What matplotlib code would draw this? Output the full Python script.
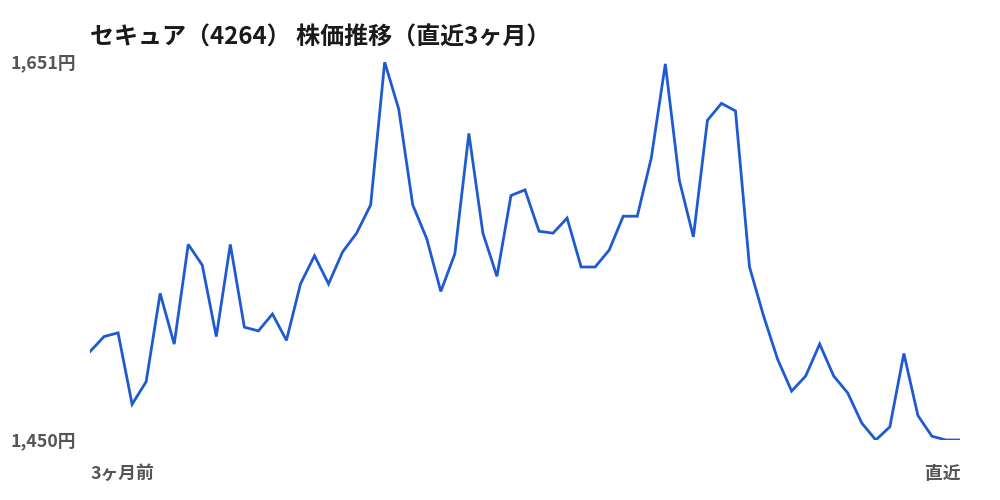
import matplotlib
matplotlib.use("Agg")
import matplotlib.pyplot as plt

plt.rcParams['font.family'] = ['Noto Sans CJK JP', 'DejaVu Sans']

# ── データ（直近3ヶ月の終値, 円）──
prices = [
    1497, 1505, 1507, 1469, 1481, 1528, 1501, 1554, 1543, 1505,
    1554, 1510, 1508, 1517, 1503, 1533, 1548, 1533, 1550, 1560,
    1575, 1651, 1626, 1575, 1557, 1529, 1549, 1613, 1560, 1537,
    1580, 1583, 1561, 1560, 1568, 1542, 1542, 1551, 1569, 1569,
    1600, 1650, 1588, 1558, 1620, 1629, 1625, 1542, 1516, 1493,
    1476, 1484, 1501, 1484, 1475, 1459, 1450, 1457, 1496, 1463,
    1452, 1450, 1450,
]
title = "セキュア（4264） 株価推移（直近3ヶ月）"
start_label = "3ヶ月前"
end_label = "直近"

LINE_COLOR = '#1f5bd0'
LABEL_COLOR = '#555555'

fig = plt.figure(figsize=(10, 5), dpi=100)
# 軸の位置: x 90→960px, y 62→440px
ax = fig.add_axes([0.09, 0.12, 0.87, 0.756])

x = list(range(len(prices)))
ax.plot(x, prices, color=LINE_COLOR, linewidth=2.0, solid_joinstyle='miter')

lo, hi = min(prices), max(prices)
ax.set_xlim(0, len(prices) - 1)
ax.set_ylim(lo, hi)
for s in ax.spines.values():
    s.set_visible(False)
ax.set_xticks([])
ax.set_yticks([])

# y軸ラベル（最高値・最安値）
for v in (hi, lo):
    ax.annotate(f"{v:,}円", xy=(0, v), xycoords=('figure fraction', 'data'),
                xytext=(10, -1), textcoords='offset pixels',
                ha='left', va='center', fontsize=12.8, fontweight='bold',
                color=LABEL_COLOR)

# x軸ラベル
ax.text(0, -0.09, start_label, transform=ax.transAxes, ha='left', va='center',
        fontsize=12.8, fontweight='bold', color=LABEL_COLOR)
ax.text(1, -0.09, end_label, transform=ax.transAxes, ha='right', va='center',
        fontsize=12.8, fontweight='bold', color=LABEL_COLOR)

fig.text(0.09, 0.925, title, ha='left', va='center', fontsize=17.3,
         fontweight='bold', color='#1a1a1a')

fig.savefig("out.png", dpi=100, facecolor='white')
